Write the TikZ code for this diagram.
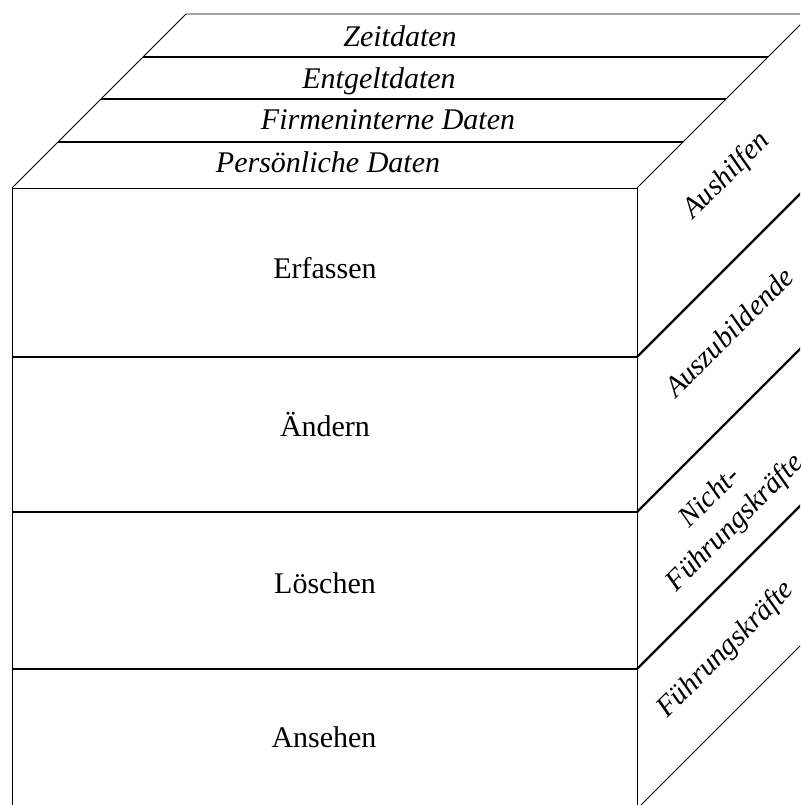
\documentclass[tikz,border=0pt]{standalone}
\usepackage{fontspec}
\setmainfont{Liberation Serif}
\begin{document}
\begin{tikzpicture}[x=1pt,y=-1pt,
  edge/.style={line width=0.9pt, line join=miter},
  divider/.style={line width=2.3pt},
  lbl/.style={inner sep=0pt, font=\fontsize{30}{36}\selectfont},
  toplbl/.style={lbl, font=\fontsize{30}{36}\selectfont\itshape, anchor=base},
  sidelbl/.style={lbl, font=\fontsize{29}{36}\selectfont\itshape, rotate=45, align=center}]
\useasboundingbox (0,0) rectangle (800,805);
\clip (0,0) rectangle (800,805);
\fill[white] (0,0) rectangle (800,805);

% corner points of the block
\coordinate (FL) at (12,188);
\coordinate (FR) at (637,188);
\coordinate (BL) at (186,14);
\coordinate (BR) at (811,14);
\coordinate (BotL) at (12,809);
\coordinate (BotR) at (637,809);

% top face: horizontal strips
\foreach \y in {57,99,142} {
  \draw[divider] ({12+188-\y},\y) -- ({637+188-\y},\y);
}
\draw[edge] (FL) -- (BL) -- (BR);
\draw[edge] (FR) -- (BR);

% front face
\draw[edge] (BotL) -- (FL) -- (FR) -- (BotR);
\foreach \y in {357,512,669} {
  \draw[divider] (12,\y) -- (637,\y);
}

% right face: diagonal strips
\foreach \y in {357,512,669} {
  \draw[divider] (637,\y) -- ({637+174},{\y-174});
}
\draw[edge] (BotR) -- ++(174,-174);

% labels of the top face
\node[toplbl] (zeit) at (400,47) {Zeitdaten};
\node[toplbl] (entgelt) at (379,89) {Entgeltdaten};
\node[toplbl] (firma) at (388,130) {Firmeninterne Daten};
\node[toplbl] (person) at (328,172) {Persönliche Daten};

% labels of the front face
\node[lbl, anchor=base] (erfassen) at (325,278) {Erfassen};
\node[lbl, anchor=base] (aendern) at (325,436) {Ändern};
\node[lbl, anchor=base] (loeschen) at (325,593) {Löschen};
\node[lbl, anchor=base] (ansehen) at (324,747) {Ansehen};

% labels of the right face
\node[sidelbl] (aushilfen) at (727,176) {Aushilfen};
\node[sidelbl] (azubi) at (729,332) {Auszubildende};
\node[sidelbl] (nichtfk) at (723,511) {Nicht-\\Führungskräfte};
\node[sidelbl] (fk) at (726,650) {Führungskräfte};
\end{tikzpicture}
\end{document}
